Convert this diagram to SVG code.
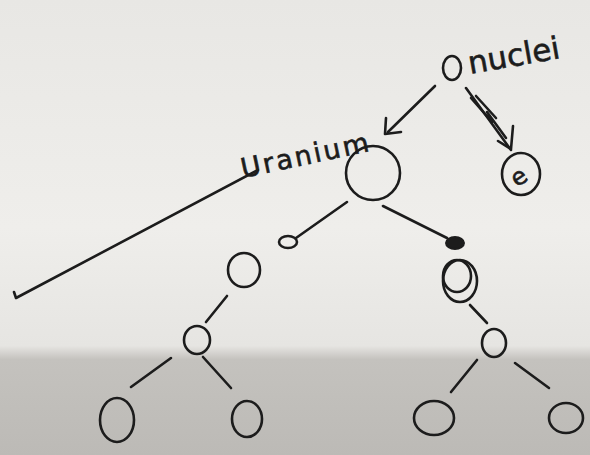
<svg xmlns="http://www.w3.org/2000/svg" width="590" height="455" viewBox="0 0 590 455">
<defs>
<linearGradient id="paper" x1="0" y1="0" x2="0" y2="1">
<stop offset="0" stop-color="#e8e7e4"/>
<stop offset="0.5" stop-color="#efeeeb"/>
<stop offset="0.76" stop-color="#e6e5e2"/>
<stop offset="0.79" stop-color="#c4c2be"/>
<stop offset="1" stop-color="#bcbab6"/>
</linearGradient>
<style>
.ink{fill:none;stroke:#1c1c1c;stroke-width:2.6;stroke-linecap:round;stroke-linejoin:round}
.fillink{fill:#1c1c1c;stroke:#1c1c1c;stroke-width:2}
.hand{font-family:"DejaVu Sans","Liberation Sans",sans-serif;fill:#1c1c1c;stroke:#1c1c1c;stroke-width:0.6;font-weight:400}
</style>
</defs>
<rect x="0" y="0" width="590" height="455" fill="url(#paper)"/>

<g id="connectors">
<path class="ink" d="M435,86 L388,132"/>
<path class="ink" d="M386,118 L385,134 L401,132"/>
<path class="ink" d="M466,88 L511,150"/>
<path class="ink" d="M471,98 L492,122 M476,96 L496,118 M487,112 L506,138"/>
<path class="ink" d="M513,126 L511,149 L498,141"/>
<path class="ink" d="M14,292 L16,298 L258,170"/>
<path class="ink" d="M347,202 L296,238"/>
<path class="ink" d="M383,206 L447,238"/>
<path class="ink" d="M227,296 L206,322"/>
<path class="ink" d="M470,305 L487,323"/>
<path class="ink" d="M171,358 L131,387"/>
<path class="ink" d="M203,357 L231,388"/>
<path class="ink" d="M477,360 L451,392"/>
<path class="ink" d="M515,363 L549,388"/>
</g>

<g id="node-nuclei">
<ellipse class="ink" cx="452" cy="68" rx="9" ry="12"/>
<text class="hand" x="470" y="74" font-size="31" transform="rotate(-10 470 74)">nuclei</text>
</g>

<g id="node-e">
<ellipse class="ink" cx="521" cy="174" rx="19" ry="21"/>
<text class="hand" x="510" y="183" font-size="24" transform="rotate(-35 521 174)">e</text>
</g>

<g id="node-uranium">
<circle class="ink" cx="373" cy="173" r="27"/>
<text class="hand" x="243" y="178" font-size="27" textLength="130" lengthAdjust="spacing" transform="rotate(-12 243 178)">Uranium</text>
</g>

<g id="node-dot-left">
<ellipse class="ink" cx="288" cy="242" rx="9" ry="6"/>
</g>
<g id="node-dot-right">
<ellipse class="fillink" cx="455" cy="243" rx="9" ry="6"/>
</g>

<g id="node-l1">
<ellipse class="ink" cx="244" cy="270" rx="16" ry="17"/>
</g>
<g id="node-r1">
<ellipse class="ink" cx="457" cy="276" rx="14" ry="16"/>
<ellipse class="ink" cx="460" cy="281" rx="17" ry="21"/>
</g>

<g id="node-l2">
<ellipse class="ink" cx="197" cy="340" rx="13" ry="14"/>
</g>
<g id="node-r2">
<ellipse class="ink" cx="494" cy="343" rx="12" ry="14"/>
</g>

<g id="node-ll">
<ellipse class="ink" cx="117" cy="420" rx="17" ry="22"/>
</g>
<g id="node-lr">
<ellipse class="ink" cx="247" cy="419" rx="15" ry="18"/>
</g>
<g id="node-rl">
<ellipse class="ink" cx="434" cy="418" rx="20" ry="17"/>
</g>
<g id="node-rr">
<ellipse class="ink" cx="566" cy="418" rx="17" ry="15"/>
</g>
</svg>
